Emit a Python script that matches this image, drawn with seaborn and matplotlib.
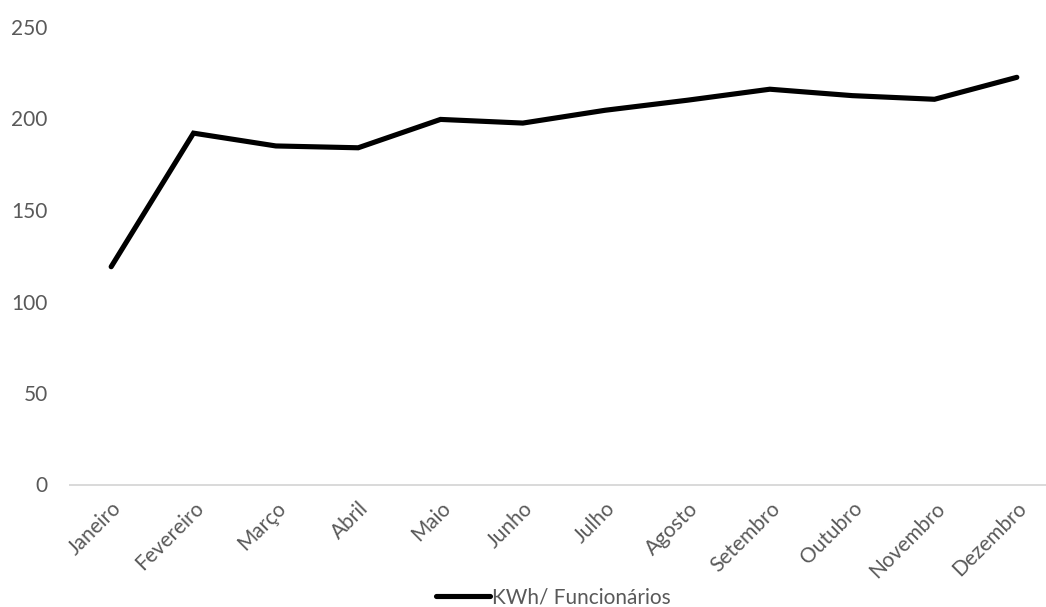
import matplotlib
matplotlib.use("Agg")
import matplotlib.pyplot as plt
import seaborn as sns
import pandas as pd

# Monthly energy use per employee
months = ["Janeiro", "Fevereiro", "Março", "Abril", "Maio", "Junho",
          "Julho", "Agosto", "Setembro", "Outubro", "Novembro", "Dezembro"]
kwh_per_employee = [119, 192, 185, 184, 199.5, 197.5,
                    204.5, 210, 216, 212.5, 210.5, 222.5]
series_name = "KWh/ Funcionários"
y_ticks = [0, 50, 100, 150, 200, 250]

sns.set_style("white")
plt.rcParams["font.family"] = ["Lato", "DejaVu Sans"]

text_color = "#595959"

df = pd.DataFrame({"mes": months, "valor": kwh_per_employee, "serie": series_name})
df["pos"] = range(len(months))

fig = plt.figure(figsize=(10.46, 6.07), dpi=100)
ax = fig.add_axes([70 / 1046, 1 - 484.5 / 607, 988 / 1046, 457.5 / 607])

sns.lineplot(data=df, x="pos", y="valor", hue="serie", palette=["#000000"],
             linewidth=3.7, ax=ax, legend=False, sort=False)
for ln in ax.lines:
    ln.set_solid_capstyle("round")
    ln.set_solid_joinstyle("miter")

ax.set_xlim(-0.5, len(months) - 0.5)
ax.set_ylim(0, 250)
ax.set_yticks(y_ticks)
ax.set_yticklabels([str(t) for t in y_ticks])
ax.set_xticks(range(len(months)))
ax.set_xticklabels(months, rotation=45, ha="right", rotation_mode="anchor")
ax.set_xlabel("")
ax.set_ylabel("")

for side in ["top", "right", "left"]:
    ax.spines[side].set_visible(False)
ax.spines["bottom"].set_color("#d9d9d9")
ax.spines["bottom"].set_linewidth(1.4)

ax.tick_params(axis="y", length=0, pad=16, labelsize=15, labelcolor=text_color)
ax.tick_params(axis="x", length=0, pad=10, labelsize=15, labelcolor=text_color)

handle = plt.Line2D([], [], color="#000000", linewidth=3.7, solid_capstyle="round")
fig.legend([handle], [series_name], loc="center",
           bbox_to_anchor=(553 / 1046, 1 - 597 / 607), frameon=False,
           fontsize=15, labelcolor=text_color, handlelength=2.6,
           handletextpad=0.1, borderpad=0, borderaxespad=0)

fig.savefig("out.png", dpi=100)
